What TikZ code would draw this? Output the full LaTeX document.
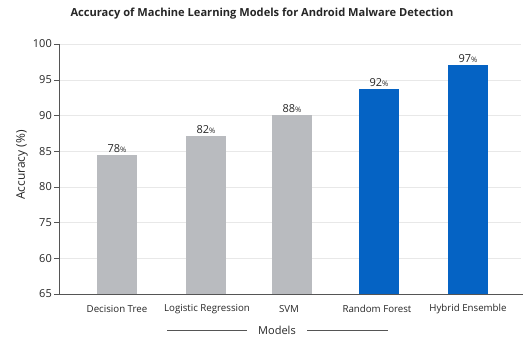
\documentclass[tikz,border=0pt]{standalone}
\usepackage{fontspec}
\setmainfont{Open Sans}
\definecolor{bargray}{HTML}{B9BBBF}
\definecolor{barblue}{HTML}{0563C4}
\definecolor{gridc}{HTML}{E8E8E8}
\definecolor{axisc}{HTML}{555555}
\definecolor{txt}{HTML}{262626}
\tikzset{
  ticklab/.style={left, font=\fontsize{11}{13}\selectfont, text=txt, inner sep=1pt},
  catlab/.style={font=\fontsize{9.7}{11}\selectfont, text=txt},
  vallab/.style={above, font=\fontsize{11}{13}\selectfont, text=txt, inner sep=2pt},
}
\begin{document}
\begin{tikzpicture}[x=1pt,y=-1pt]
        \useasboundingbox (0,0) rectangle (524,341);
        \node[font=\bfseries\fontsize{11.1}{13}\selectfont, text=txt] (title) at (262,14) {Accuracy of Machine Learning Models for Android Malware Detection};
        \foreach \lab [count=\k from 0] in {100,95,90,85,80,75,60,65} {
            \pgfmathsetmacro\yy{44+\k*35.714}
            \draw[gridc] (60,\yy) -- (521,\yy);
            \draw[axisc] (54,\yy) -- (59,\yy);
            \node[ticklab] (tick\k) at (53,\yy) {\lab};
        }
        \draw[axisc] (59,44) -- (59,294) -- (523,294);
        \node[rotate=90, font=\fontsize{12}{14}\selectfont, text=txt] (ytitle) at (22,165) {Accuracy (\%)};
        \foreach \nm/\xl/\top/\val/\col in {
            dt/97/155/78/bargray,
            lr/186/136/82/bargray,
            svm/272/115/88/bargray,
            rf/359/89/92/barblue,
            he/448/65/97/barblue} {
            \fill[\col] (\xl,294) rectangle (\xl+40,\top);
            \node[vallab] (v\nm) at (\xl+20,\top) {\val{\fontsize{7.5}{8}\selectfont\%}};
        }
        \node[catlab] (cdt) at (117,309) {Decision Tree};
        \node[catlab] (clr) at (207,309) {Logistic Regression};
        \node[catlab] (csvm) at (289,309) {SVM};
        \node[catlab] (crf) at (377,309) {Random Forest};
        \node[catlab] (che) at (468,309) {Hybrid Ensemble};
        \node[font=\fontsize{11}{13}\selectfont, text=txt] (xtitle) at (277,330) {Models};
        \coordinate (xleft) at (167,330);
        \coordinate (xright) at (388,330);
        \draw[axisc] (xleft) -- ([xshift=-8pt]xtitle.west);
        \draw[axisc] ([xshift=8pt]xtitle.east) -- (xright);
    \end{tikzpicture}
\end{document}
